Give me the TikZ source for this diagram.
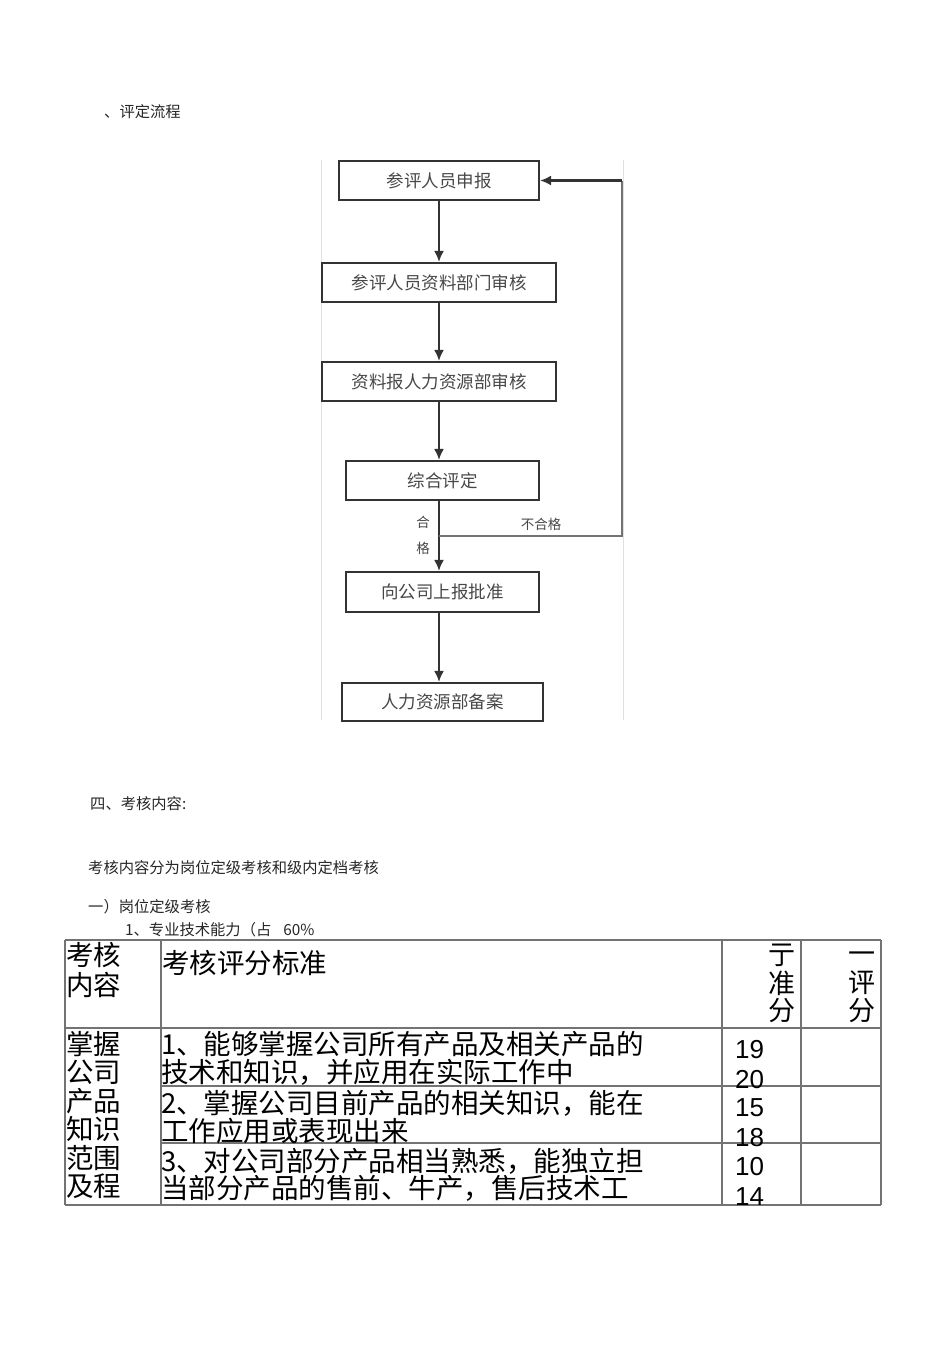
\documentclass[tikz,border=0pt]{standalone}
\usepackage{fontspec}
\setmainfont{Noto Sans CJK SC}
\newfontfamily\latf{Liberation Sans}
\usetikzlibrary{arrows.meta}
\tikzset{
  x=1pt,y=-1pt,
  fbox/.style={draw=black!80,line width=2.1pt,minimum height=39pt,inner sep=0pt,text=black!72,font=\fontsize{17.5}{17.5}\selectfont},
  flow/.style={draw=black!80,line width=2.1pt,-{Latex[length=11pt,width=10pt]}},
  back/.style={draw=black!55,line width=2.3pt},
  small/.style={inner sep=0pt,anchor=west,text=black!85,font=\fontsize{15.3}{15.3}\selectfont},
  lbl/.style={inner sep=0pt,text=black!72,font=\fontsize{13.5}{13.5}\selectfont},
  grid/.style={draw=black!55,line width=1.3pt},
  big/.style={inner sep=0pt,align=left,font=\fontsize{27.5}{28.5}\selectfont},
  hch/.style={inner sep=0pt,anchor=east,font=\fontsize{27}{27}\selectfont},
  num/.style={inner sep=0pt,align=left,anchor=west,font=\latf\fontsize{26}{30}\selectfont},
}
\begin{document}
\begin{tikzpicture}
\useasboundingbox (0,0) rectangle (950,1345);
% heading texts
\node[small] (t1) at (104,112) {、评定流程};
% picture frame edges
\coordinate (fl1) at (321,160); \coordinate (fl2) at (321,720);
\coordinate (fr1) at (623.5,160); \coordinate (fr2) at (623.5,720);
\draw[black!12,line width=1pt] (fl1) -- (fl2) (fr1) -- (fr2);
% boxes
\node[fbox,minimum width=200pt] (b1) at (439,180.5) {参评人员申报};
\node[fbox,minimum width=234pt] (b2) at (439,282.5) {参评人员资料部门审核};
\node[fbox,minimum width=234pt] (b3) at (439,381.5) {资料报人力资源部审核};
\node[fbox,minimum width=193pt] (b4) at (442.5,480.5) {综合评定};
\node[fbox,minimum width=193pt,minimum height=40pt] (b5) at (442.5,592) {向公司上报批准};
\node[fbox,minimum width=201pt,minimum height=38pt] (b6) at (442.5,702) {人力资源部备案};
% connectors
\draw[flow] (b1.south) -- (b2.north);
\draw[flow] (b2.south) -- (b3.north);
\draw[flow] (b3.south) -- (b3.south |- b4.north);
\coordinate (br) at (439,536);
\coordinate (fb) at (622,536);
\draw[flow] (b3.south |- b4.south) -- (b3.south |- b5.north);
\draw[flow] (b3.south |- b5.south) -- (b3.south |- b6.north);
\draw[back] (br) -- (fb) -- (fb |- b1.east);
\draw[flow] (fb |- b1.east) -- (b1.east);
\node[lbl] (l1) at (423,522) {合};
\node[lbl] (l2) at (423,548) {格};
\node[lbl] (l3) at (541,524) {不合格};
% section texts
\node[small] (t2) at (90,804) {四、考核内容:};
\node[small] (t3) at (88,868) {考核内容分为岗位定级考核和级内定档考核};
\node[small] (t4) at (88,907) {一）岗位定级考核};
\node[small] (t5) at (125,930) {1、专业技术能力（占\hspace{12pt}60\%};
% table grid
\coordinate (a0) at (65,940); \coordinate (a1) at (161,940); \coordinate (a2) at (722,940); \coordinate (a3) at (801,940); \coordinate (a4) at (881,940);
\coordinate (z0) at (65,1205); \coordinate (z1) at (161,1205); \coordinate (z2) at (722,1205); \coordinate (z3) at (801,1205); \coordinate (z4) at (881,1205);
\coordinate (h0) at (65,1028); \coordinate (h4) at (881,1028);
\coordinate (r1a) at (161,1086); \coordinate (r1b) at (881,1086);
\coordinate (r2a) at (161,1143); \coordinate (r2b) at (881,1143);
\draw[grid] (a0) -- (a4) (h0) -- (h4) (r1a) -- (r1b) (r2a) -- (r2b) (z0) -- (z4);
\draw[grid] (a0) -- (z0) (a1) -- (z1) (a2) -- (z2) (a3) -- (z3) (a4) -- (z4);
% header
\node[big,anchor=west,font=\fontsize{27.5}{30}\selectfont] (hc1) at (66,970) {考核\\内容};
\node[big,anchor=west] (hc2) at (162,963) {考核评分标准};
\node[hch] (h3a) at (796,955) {亍};
\node[hch] (h3b) at (796,983) {准};
\node[hch] (h3c) at (796,1011) {分};
\node[hch] (h4a) at (876,958) {一};
\node[hch] (h4b) at (876,983) {评};
\node[hch] (h4c) at (876,1011) {分};
% body
\node[big,anchor=west] (c1) at (66,1115) {掌握\\公司\\产品\\知识\\范围\\及程};
\node[big,anchor=west,font=\fontsize{27.5}{27.5}\selectfont] (r1) at (161,1058.5) {1、能够掌握公司所有产品及相关产品的\\技术和知识，并应用在实际工作中};
\node[big,anchor=west,font=\fontsize{27.5}{27.5}\selectfont] (r2) at (161,1117) {2、掌握公司目前产品的相关知识，能在\\工作应用或表现出来};
\node[big,anchor=west,font=\fontsize{27.5}{27.5}\selectfont] (r3) at (161,1175) {3、对公司部分产品相当熟悉，能独立担\\当部分产品的售前、牛产，售后技术工};
\node[num] (n1) at (735,1065) {19\\20};
\node[num] (n2) at (735,1123) {15\\18};
\node[num] (n3) at (735,1181) {10\\14};
\end{tikzpicture}
\end{document}
